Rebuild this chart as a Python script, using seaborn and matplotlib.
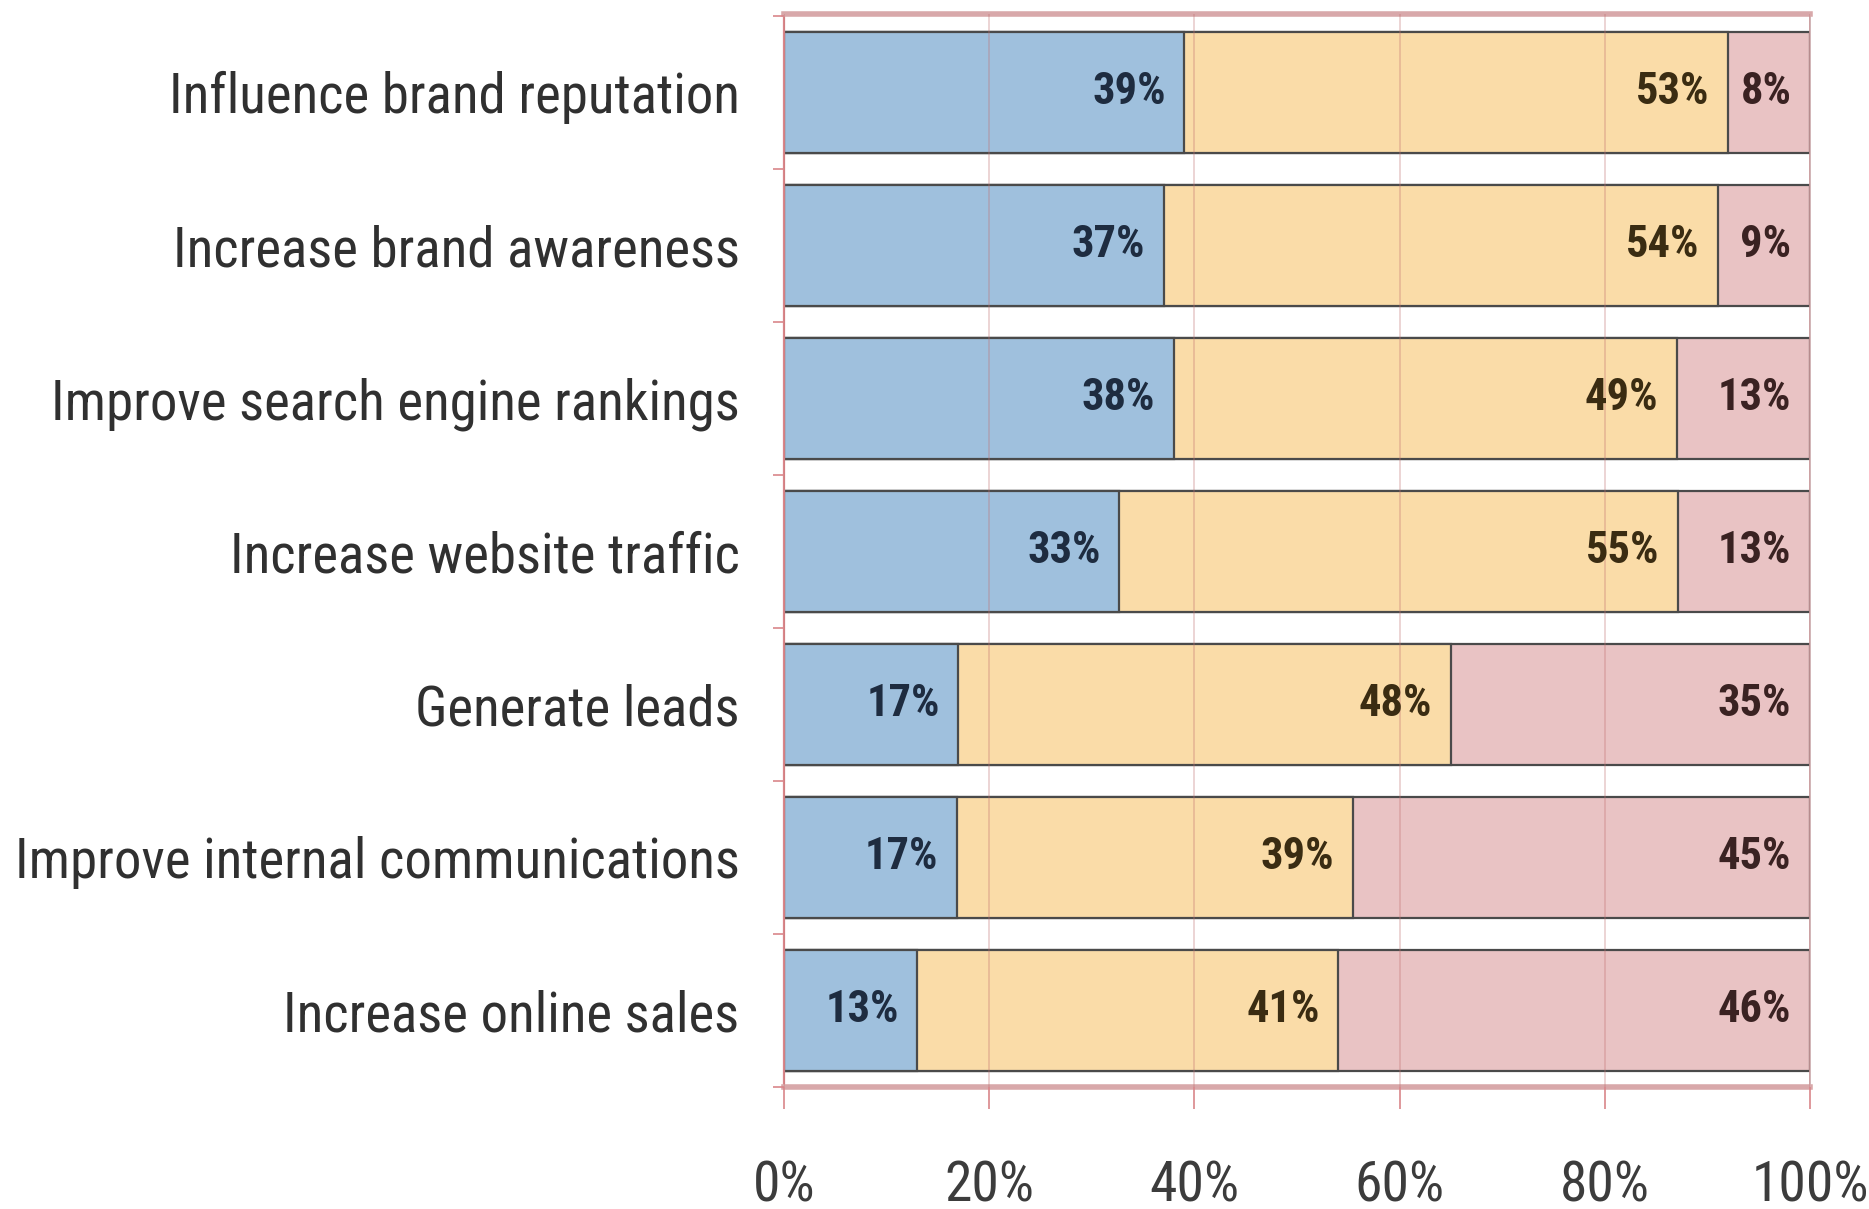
import matplotlib
matplotlib.use("Agg")
import matplotlib.pyplot as plt
import seaborn as sns
import pandas as pd
import numpy as np

categories = [
    "Influence brand reputation",
    "Increase brand awareness",
    "Improve search engine rankings",
    "Increase website traffic",
    "Generate leads",
    "Improve internal communications",
    "Increase online sales",
]
very_effective = [39, 37, 38, 33, 17, 17, 13]
somewhat_effective = [53, 54, 49, 55, 48, 39, 41]
not_effective = [8, 9, 13, 13, 35, 45, 46]
x_ticks = [0, 20, 40, 60, 80, 100]
x_tick_labels = ["0%", "20%", "40%", "60%", "80%", "100%"]

sns.set_theme(style="white")
plt.rcParams['font.family'] = ['Roboto Condensed', 'PT Sans Narrow', 'Archivo Narrow',
                               'Liberation Sans', 'DejaVu Sans']

df = pd.DataFrame({
    "category": categories,
    "a": very_effective,
    "b": somewhat_effective,
    "c": not_effective,
})
total = df["a"] + df["b"] + df["c"]
df["end_a"] = df["a"] / total * 100
df["end_b"] = (df["a"] + df["b"]) / total * 100
df["end_c"] = 100.0

fig = plt.figure(figsize=(18.69, 12.09), dpi=100)
ax = fig.add_axes([0.4195, 0.1009, 0.5489, 0.8875])

blue = "#9FC0DD"
orange = "#FADCA8"
pink = "#E9C3C4"
edge = "#4A4A4A"

for col, color in [("end_c", pink), ("end_b", orange), ("end_a", blue)]:
    sns.barplot(data=df, y="category", x=col, orient="h", color=color,
                edgecolor=edge, linewidth=1.6, width=0.79, ax=ax,
                saturation=1, zorder=2)

ax.set_xlim(0, 100)
ax.set_ylim(6.48, -0.51)

lab_fs = 32
for i in range(len(categories)):
    ax.text(df["end_a"][i] - 1.8, i, f"{very_effective[i]}%", ha="right", va="center",
            fontsize=lab_fs, fontweight="bold", color="#1E2C40", zorder=5)
    ax.text(df["end_b"][i] - 1.8, i, f"{somewhat_effective[i]}%", ha="right", va="center",
            fontsize=lab_fs, fontweight="bold", color="#3A2C12", zorder=5)
    ax.text(100 - 1.8, i, f"{not_effective[i]}%", ha="right", va="center",
            fontsize=lab_fs, fontweight="bold", color="#3A2222", zorder=5)

ax.set_xticks(x_ticks)
ax.set_xticklabels(x_tick_labels, fontsize=40, color="#3C3C3C")
ax.tick_params(axis="x", bottom=True, length=16, width=1.2, color="#D9868A",
               pad=36, direction="out")
ax.tick_params(axis="y", which="major", left=False, length=0, pad=32,
               labelsize=39.5, labelcolor="#303030")
ax.set_yticks(np.arange(-0.5, 7, 1.0), minor=True)
ax.tick_params(axis="y", which="minor", left=True, length=8, width=1.2,
               color="#D9868A", direction="out")
ax.set_xlabel("")
ax.set_ylabel("")

ax.grid(axis="x", color="#C07070", linewidth=1.2, alpha=0.35, zorder=3)
ax.set_axisbelow(False)
for s in ["top", "bottom"]:
    ax.spines[s].set_color("#D8A8AA")
    ax.spines[s].set_linewidth(4)
ax.spines["left"].set_color("#D9868A")
ax.spines["left"].set_linewidth(1.6)
ax.spines["right"].set_color("#C9A8AA")
ax.spines["right"].set_linewidth(1.2)

fig.savefig("out.png", dpi=100, facecolor="white")
